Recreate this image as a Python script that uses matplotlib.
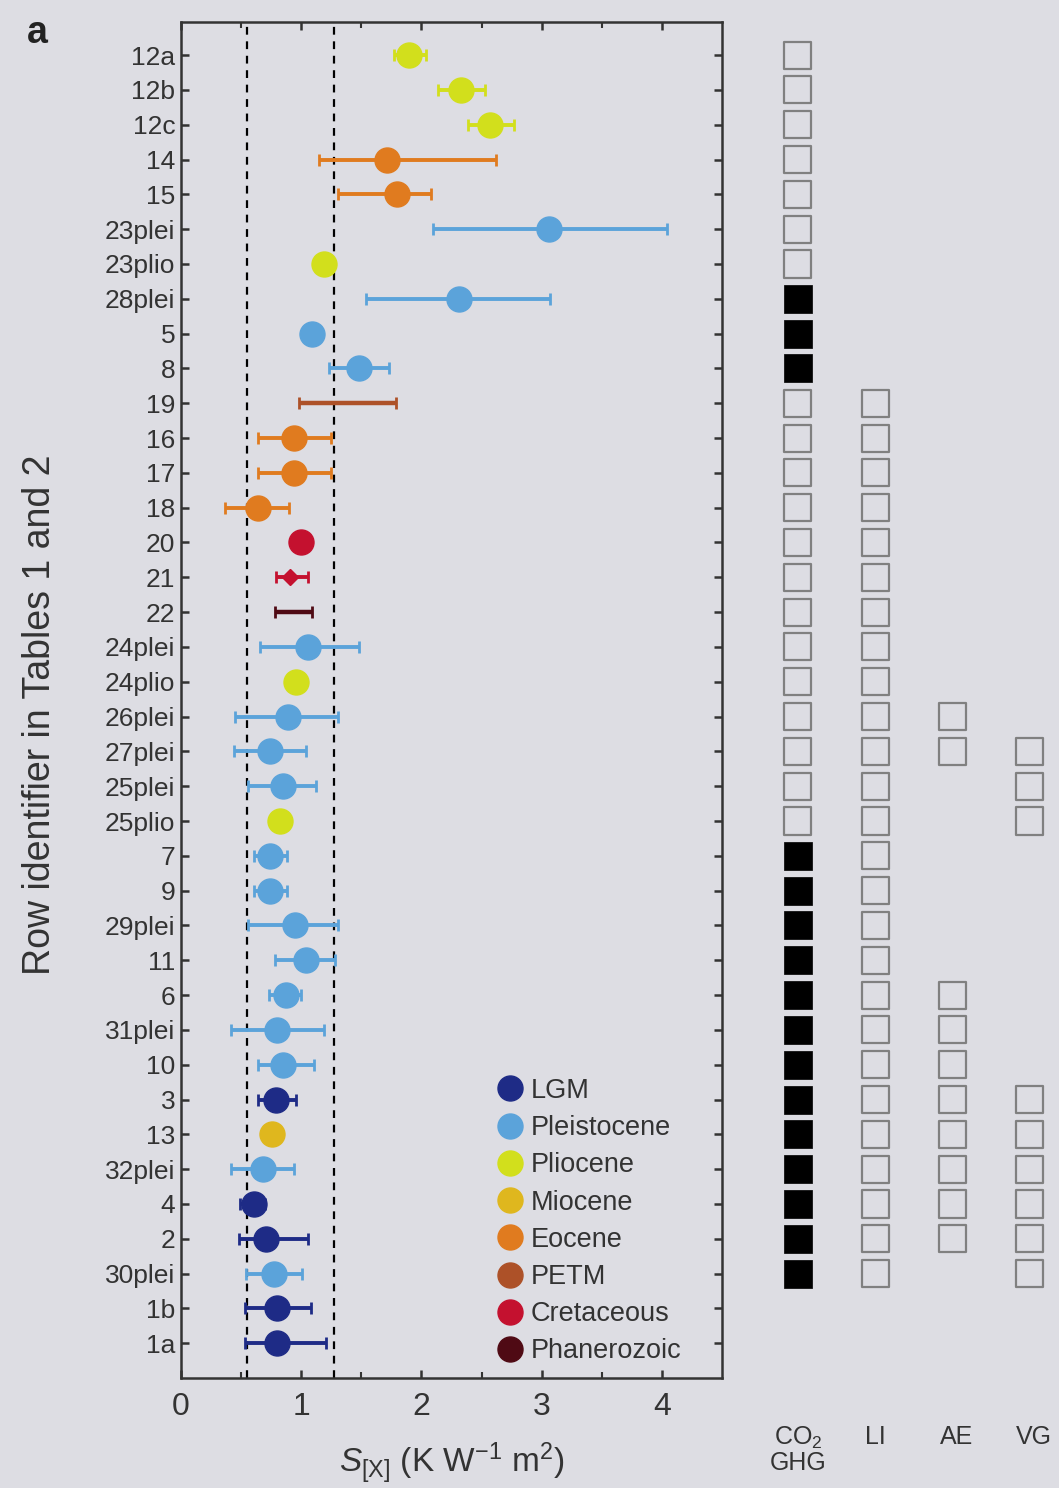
import numpy as np
import matplotlib
matplotlib.use("Agg")
import matplotlib.pyplot as plt
from matplotlib.lines import Line2D

plt.rcParams['font.family'] = ['Liberation Sans', 'DejaVu Sans']
plt.rcParams['mathtext.fontset'] = 'custom'
plt.rcParams['mathtext.rm'] = 'Liberation Sans'
plt.rcParams['mathtext.it'] = 'Liberation Sans:italic'

# ---- data -------------------------------------------------------------
row_ids = ['12a', '12b', '12c', '14', '15', '23plei', '23plio', '28plei', '5', '8',
           '19', '16', '17', '18', '20', '21', '22', '24plei', '24plio', '26plei',
           '27plei', '25plei', '25plio', '7', '9', '29plei', '11', '6', '31plei', '10',
           '3', '13', '32plei', '4', '2', '30plei', '1b', '1a']

epochs = ['Pliocene', 'Pliocene', 'Pliocene', 'Eocene', 'Eocene', 'Pleistocene', 'Pliocene',
          'Pleistocene', 'Pleistocene', 'Pleistocene', 'PETM', 'Eocene', 'Eocene', 'Eocene',
          'Cretaceous', 'Cretaceous', 'Phanerozoic', 'Pleistocene', 'Pliocene', 'Pleistocene',
          'Pleistocene', 'Pleistocene', 'Pliocene', 'Pleistocene', 'Pleistocene', 'Pleistocene',
          'Pleistocene', 'Pleistocene', 'Pleistocene', 'Pleistocene', 'LGM', 'Miocene',
          'Pleistocene', 'LGM', 'LGM', 'Pleistocene', 'LGM', 'LGM']

# central estimate of S_[X] (K W-1 m2)
s_best = [1.90, 2.33, 2.57, 1.71, 1.80, 3.06, 1.19, 2.31, 1.09, 1.48,
          1.38, 0.94, 0.94, 0.64, 1.00, 0.91, 0.93, 1.06, 0.96, 0.89,
          0.74, 0.85, 0.82, 0.74, 0.74, 0.95, 1.04, 0.87, 0.80, 0.85,
          0.79, 0.76, 0.68, 0.61, 0.71, 0.77, 0.80, 0.80]
# lower / upper bounds of the uncertainty range
s_low = [1.77, 2.14, 2.39, 1.15, 1.31, 2.10, 1.19, 1.54, 1.09, 1.23,
         0.98, 0.64, 0.64, 0.37, 1.00, 0.79, 0.78, 0.66, 0.96, 0.45,
         0.44, 0.56, 0.82, 0.61, 0.61, 0.56, 0.78, 0.73, 0.42, 0.64,
         0.64, 0.76, 0.42, 0.49, 0.48, 0.54, 0.53, 0.53]
s_high = [2.04, 2.53, 2.77, 2.62, 2.08, 4.04, 1.19, 3.07, 1.09, 1.73,
          1.79, 1.25, 1.25, 0.90, 1.00, 1.06, 1.09, 1.48, 0.96, 1.31,
          1.04, 1.12, 0.82, 0.88, 0.88, 1.31, 1.28, 1.00, 1.19, 1.11,
          0.96, 0.76, 0.94, 0.70, 1.06, 1.01, 1.08, 1.21]

# rows that are ranges only (no central estimate) and the arrow-type estimate
range_only = ['19', '22']
arrow_rows = ['21']

# consensus range (dashed lines)
consensus = [0.55, 1.27]

epoch_order = ['LGM', 'Pleistocene', 'Pliocene', 'Miocene', 'Eocene', 'PETM',
               'Cretaceous', 'Phanerozoic']
epoch_colors = ['#1e2b86', '#5ba3da', '#d2df1c', '#dfb71e', '#e07b1f', '#ad5128',
                '#c4112f', '#4f0a14']

# processes accounted for in each row: filled = explicitly, open = considered
flag_columns = ['CO$_2$\nGHG', 'LI', 'AE', 'VG']
co2_filled = ['28plei', '5', '8', '7', '9', '29plei', '11', '6', '31plei', '10',
              '3', '13', '32plei', '4', '2', '30plei']
co2_open = ['12a', '12b', '12c', '14', '15', '23plei', '23plio', '19', '16', '17',
            '18', '20', '21', '22', '24plei', '24plio', '26plei', '27plei', '25plei',
            '25plio']
li_open = ['19', '16', '17', '18', '20', '21', '22', '24plei', '24plio', '26plei',
           '27plei', '25plei', '25plio', '7', '9', '29plei', '11', '6', '31plei', '10',
           '3', '13', '32plei', '4', '2', '30plei']
ae_open = ['26plei', '27plei', '6', '31plei', '10', '3', '13', '32plei', '4', '2']
vg_open = ['27plei', '25plei', '25plio', '3', '13', '32plei', '4', '2', '30plei']

# ---- figure -----------------------------------------------------------
bg = '#dddde3'
ink = '#333333'
fig = plt.figure(figsize=(10.59, 14.88), dpi=100, facecolor=bg)
ax = fig.add_axes([0.1709, 0.0739, 0.5109, 0.9113], facecolor=bg)

ypos = np.arange(1, len(row_ids) + 1)
col_of = dict(zip(epoch_order, epoch_colors))

for y, rid, ep, xb, lo, hi in zip(ypos, row_ids, epochs, s_best, s_low, s_high):
    c = col_of[ep]
    if hi > lo:
        ax.errorbar([xb], [y], xerr=[[xb - lo], [hi - xb]], fmt='none', ecolor=c,
                    elinewidth=2.8 if rid not in range_only else 3.2,
                    capsize=4, capthick=2.0, zorder=2)
    if rid in range_only:
        continue
    if rid in arrow_rows:
        ax.plot([xb], [y], marker='D', ms=8, color=c, mec=c, zorder=3)
    else:
        ax.plot([xb], [y], marker='o', ms=18, color=c, mec=c, zorder=3)

for xc in consensus:
    ax.axvline(xc, color='black', ls=(0, (3.5, 3)), lw=1.6, zorder=1)

ax.set_xlim(0, 4.5)
ax.set_ylim(39.0, 0.05)
ax.set_yticks(ypos)
ax.set_yticklabels(row_ids, fontsize=19)
ax.set_xticks([0, 1, 2, 3, 4])
ax.set_xticks([0.5, 1.5, 2.5, 3.5], minor=True)
ax.tick_params(axis='x', labelsize=23, direction='in', top=True, length=6,
               width=1.8, pad=10, colors=ink, labelcolor=ink)
ax.tick_params(axis='x', which='minor', direction='in', top=True, length=4, width=1.5,
               colors=ink)
ax.tick_params(axis='y', direction='in', right=True, length=6, width=1.8, pad=4,
               colors=ink, labelcolor=ink)
for sp in ax.spines.values():
    sp.set_linewidth(1.8)
    sp.set_color(ink)

ax.set_xlabel(r'$S_{\mathrm{[X]}}$ (K W$^{-1}$ m$^{2}$)', fontsize=24, color=ink,
              labelpad=14)
ax.set_ylabel('Row identifier in Tables 1 and 2', fontsize=27, color=ink)
ax.yaxis.set_label_coords(-0.228, 0.489)

handles = [Line2D([], [], ls='none', marker='o', ms=18, color=c, mec=c)
           for c in epoch_colors]
ax.legend(handles, epoch_order, loc='lower left', bbox_to_anchor=(0.558, 0.0),
          frameon=False, fontsize=19.5, handlelength=1.0, handletextpad=0.28,
          labelspacing=0.415, borderpad=0.0, labelcolor=ink)

fig.text(0.025, 0.978, 'a', fontsize=27, fontweight='bold', color='#222222',
         ha='left', va='center')

# ---- flag columns -----------------------------------------------------
axf = fig.add_axes([760 / 1059, 0.0739, 299 / 1059, 0.9113], facecolor='none')
axf.set_xlim(-0.49, 3.38)
axf.set_ylim(39.0, 0.05)
axf.axis('off')
row_index = dict(zip(row_ids, ypos))


def draw_flags(col, ids, filled):
    ys = [row_index[r] for r in ids]
    xs = [col] * len(ys)
    if filled:
        axf.scatter(xs, ys, marker='s', s=420, color='black', edgecolors='black',
                    linewidths=0.5)
    else:
        axf.scatter(xs, ys, marker='s', s=380, facecolors='none', edgecolors='#808080',
                    linewidths=1.6)


draw_flags(0, co2_filled, True)
draw_flags(0, co2_open, False)
draw_flags(1, li_open, False)
draw_flags(2, ae_open, False)
draw_flags(3, vg_open, False)

for i, lab in enumerate(flag_columns):
    axf.text(i + (0.05 if i >= 2 else 0), 40.35, lab, ha='center', va='top',
             fontsize=18, color=ink, linespacing=1.0, clip_on=False)

fig.savefig('out.png', dpi=100, facecolor=bg)
